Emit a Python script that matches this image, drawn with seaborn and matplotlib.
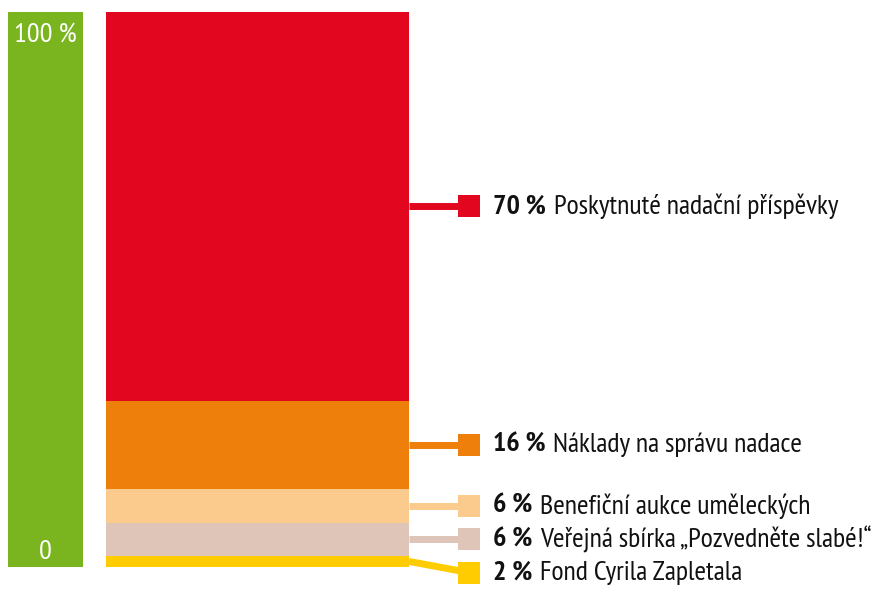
import numpy as np
import pandas as pd
import matplotlib
matplotlib.use("Agg")
import matplotlib.pyplot as plt
import seaborn as sns
from matplotlib import font_manager as fm
from matplotlib.transforms import blended_transform_factory

# ---- data ----
categories = ["Poskytnuté nadační příspěvky", "Náklady na správu nadace",
              "Benefiční aukce uměleckých", "Veřejná sbírka „Pozvedněte slabé!“",
              "Fond Cyrila Zapletala"]
values = [70, 16, 6, 6, 2]
pct_labels = ["70 %", "16 %", "6 %", "6 %", "2 %"]
scale_labels = ["100 %", "0"]
scale_total = [100]

# ---- styles / layout ----
colors = ["#E2061E", "#EE7F0A", "#FACB8C", "#DFC4B8", "#FECC00"]
green = "#7AB51F"
label_shift = [0, 0, 0, 0, -2]   # vertical shift of label (in % units)

sns.set_theme(style="white")

# pick a condensed family that has regular and bold
prefs = ["PT Sans Narrow", "Fira Sans Condensed", "Open Sans Condensed",
         "Roboto Condensed", "Asap Condensed", "Archivo Narrow",
         "Sofia Sans Condensed", "Liberation Sans Narrow", "DejaVu Sans"]
avail = {}
for f in fm.fontManager.ttflist:
    avail.setdefault(f.name, set()).add(f.weight if isinstance(f.weight, int) else 400)
FAM = "DejaVu Sans"
for p in prefs:
    if p in avail and any(w <= 450 for w in avail[p]) and any(w >= 650 for w in avail[p]):
        FAM = p
        break
plt.rcParams["font.family"] = [FAM, "DejaVu Sans"]

W, H = 878, 589
fig = plt.figure(figsize=(W / 100, H / 100), dpi=100)

def px_axes(x0, y0, x1, y1):
    return fig.add_axes([x0 / W, 1 - y1 / H, (x1 - x0) / W, (y1 - y0) / H])

# main stacked bar
ax = px_axes(106, 12, 409, 567)
vals = np.array(values, dtype=float)
tops = np.cumsum(vals[::-1])[::-1]
mids = tops - vals / 2
for top, c in zip(tops, colors):
    sns.barplot(x=["total"], y=[top], color=c, width=1, saturation=1,
                linewidth=0, ax=ax)
ax.set_xlim(-0.5, 0.5)
ax.set_ylim(0, 100)
ax.axis("off")

# green scale bar
gx = px_axes(8, 12, 83, 567)
sns.barplot(x=["scale"], y=scale_total, color=green, width=1, saturation=1,
            linewidth=0, ax=gx)
gx.set_xlim(-0.5, 0.5)
gx.set_ylim(0, 100)
gx.axis("off")
gx.text(0, 96, scale_labels[0], color="white", ha="center", va="center",
        fontsize=20.5)
gx.text(0, 2.7, scale_labels[1], color="white", ha="center", va="center",
        fontsize=20.5)

# labels with connectors
tr = blended_transform_factory(fig.transFigure, ax.transData)
x_bar = 409 / W
x_mark = 469 / W
x_text = 493 / W
for i in range(len(values)):
    y0 = mids[i]
    y1 = mids[i] + label_shift[i]
    ax.plot([x_bar, x_mark], [y0, y1], color=colors[i], lw=5,
            solid_capstyle="butt", transform=tr, clip_on=False)
    ax.plot([x_mark], [y1], marker="s", markersize=16, color=colors[i],
            markeredgewidth=0, transform=tr, clip_on=False)
    t = ax.text(x_text, y1, pct_labels[i], transform=tr, fontsize=20.2,
                fontweight="bold", ha="left", va="center", color="#111111")
    ax.annotate(categories[i], xy=(1, 0.5), xycoords=t, xytext=(5.5, 0),
                textcoords="offset points", fontsize=20.2, ha="left",
                va="center", color="#111111")

fig.savefig("out.png", dpi=100)
